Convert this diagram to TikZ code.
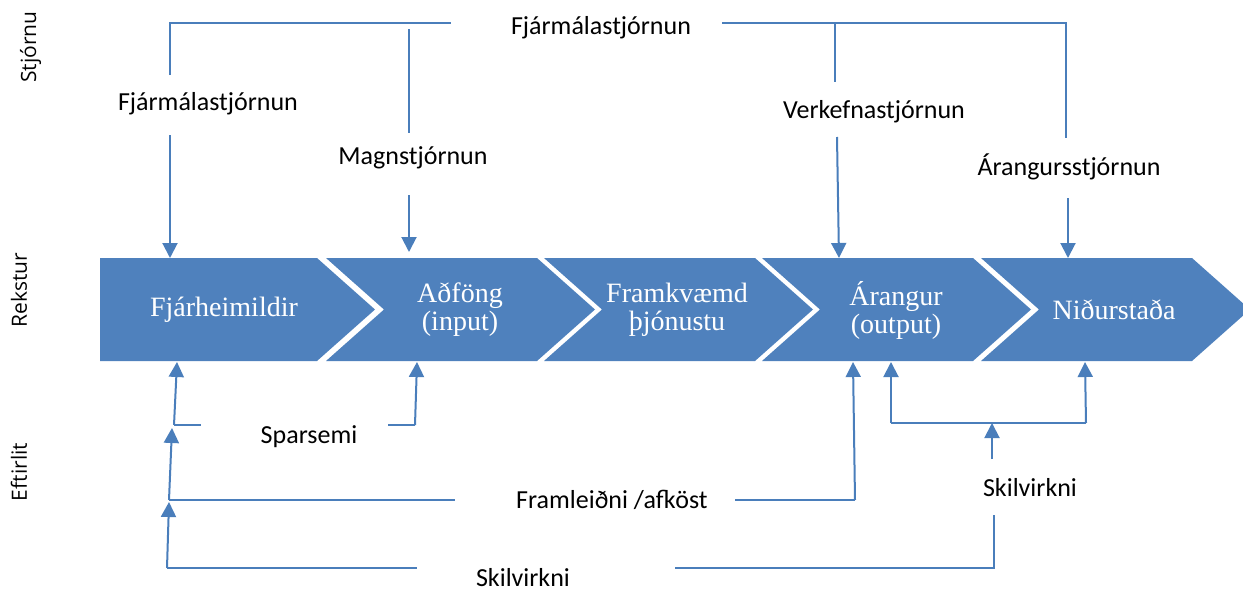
\documentclass[tikz,border=0pt]{standalone}
\usepackage{fontspec}
\setmainfont{Liberation Serif}
\newfontfamily\lblfont{Carlito}
\newfontfamily\sidefont{Open Sans}
\usetikzlibrary{arrows.meta}
\definecolor{chevblue}{HTML}{4F81BD}
\definecolor{lineblue}{HTML}{4A7EBB}

\begin{document}
\begin{tikzpicture}[x=1pt,y=-1pt]
\useasboundingbox (0,0) rectangle (1243,592);
\tikzset{
	link/.style={draw=lineblue, line width=2pt},
	arr/.style={link, -{Triangle[width=15pt,length=15pt]}},
	lbl/.style={font=\lblfont\fontsize{26}{30}\selectfont, inner sep=0pt},
	side/.style={font=\sidefont\fontsize{21}{24}\selectfont, rotate=90, inner sep=0pt, anchor=base},
	chev/.style={fill=chevblue},
	chevtext/.style={text=white, align=center, inner sep=0pt, font=\fontsize{28}{28}\selectfont}
}
\begin{scope}
	% chevrons
	\fill[chev] (100,258) -- (317,258) -- (375,309.5) -- (317,361) -- (100,361) -- cycle;
	\fill[chev] (326,258) -- (537,258) -- (595,309.5) -- (537,361) -- (326,361) -- (384,309.5) -- cycle;
	\fill[chev] (544,258) -- (755,258) -- (813,309.5) -- (755,361) -- (544,361) -- (602,309.5) -- cycle;
	\fill[chev] (762,258) -- (973,258) -- (1031,309.5) -- (973,361) -- (762,361) -- (820,309.5) -- cycle;
	\fill[chev] (981,258) -- (1192,258) -- (1250,309.5) -- (1192,361) -- (981,361) -- (1039,309.5) -- cycle;

	\node[chevtext] (fjh) at (224,310) {Fjárheimildir};
	\node[chevtext] (adf) at (460,310) {Aðföng\\(input)};
	\node[chevtext] (frk) at (677,310) {Framkvæmd\\þjónustu};
	\node[chevtext] (ara) at (896,310) {Árangur\\(output)};
	\node[chevtext] (nid) at (1114,310) {Niðurstaða};

	% side labels
	\node[side] (stj) at (36,47) {Stjórnu};
	\node[side] (rek) at (27,290) {Rekstur};
	\node[side] (eft) at (27,472) {Eftirlit};

	% labels
	\node[lbl] (fjtop) at (601,28) {Fjármálastjórnun};
	\node[lbl] (fjleft) at (208,104) {Fjármálastjórnun};
	\node[lbl] (magn) at (413,158) {Magnstjórnun};
	\node[lbl] (verk) at (874,112) {Verkefnastjórnun};
	\node[lbl] (arst) at (1069,167) {Árangursstjórnun};
	\node[lbl] (spar) at (309,437) {Sparsemi};
	\node[lbl] (fram) at (612,500) {Framleiðni /afköst};
	\node[lbl] (skil) at (523,578) {Skilvirkni};
	\node[lbl] (skilr) at (1030,488) {Skilvirkni};

	% top connectors
	\coordinate (t1) at (170,23);
	\coordinate (t2) at (451,23);
	\coordinate (t3) at (722,23);
	\coordinate (t4) at (1066,23);
	\coordinate (f1) at (170,75);
	\coordinate (f2) at (170,135);
	\coordinate (f3) at (170,258);
	\coordinate (m1) at (409,29);
	\coordinate (m2) at (409,133);
	\coordinate (m3) at (409,195);
	\coordinate (m4) at (409,252);
	\coordinate (v0) at (835,23);
	\coordinate (v1) at (835,82);
	\coordinate (v2) at (837,137);
	\coordinate (v3) at (839,258);
	\coordinate (a1) at (1066,138);
	\coordinate (a2) at (1068,198);
	\coordinate (a3) at (1068,258);

	\draw[link] (f1) -- (t1) -- (t2);
	\draw[link] (t3) -- (t4) -- (a1);
	\draw[link] (v0) -- (v1);
	\draw[link] (m1) -- (m2);
	\draw[arr] (f2) -- (f3);
	\draw[arr] (m3) -- (m4);
	\draw[arr] (v2) -- (v3);
	\draw[arr] (a2) -- (a3);

	% bottom connectors
	\coordinate (s1) at (174,425);
	\coordinate (s2) at (201,425);
	\coordinate (s3) at (388,425);
	\coordinate (s4) at (415,425);
	\coordinate (p0) at (169,500);
	\coordinate (p1) at (455,500);
	\coordinate (p2) at (735,500);
	\coordinate (p3) at (855,500);
	\coordinate (k0) at (167,568);
	\coordinate (k1) at (417,568);
	\coordinate (k2) at (675,568);
	\coordinate (k3) at (994,568);
	\coordinate (k4) at (994,515);
	\coordinate (r0) at (992,459);
	\coordinate (r1) at (992,423);
	\coordinate (r2) at (891,423);
	\coordinate (r3) at (1086,423);

	\draw[link] (s1) -- (s2);
	\draw[link] (s3) -- (s4);
	\draw[link] (p0) -- (p1);
	\draw[link] (p2) -- (p3);
	\draw[link] (k0) -- (k1);
	\draw[link] (k2) -- (k3) -- (k4);
	\draw[link] (r2) -- (r3);
	\draw[arr] (s1) -- (177,362);
	\draw[arr] (s4) -- (417,362);
	\draw[arr] (p0) -- (172,428);
	\draw[arr] (p3) -- (853,362);
	\draw[arr] (k0) -- (169,502);
	\draw[arr] (r0) -- (r1);
	\draw[arr] (r2) -- (891,362);
	\draw[arr] (r3) -- (1085,362);
\end{scope}
\end{tikzpicture}
\end{document}
